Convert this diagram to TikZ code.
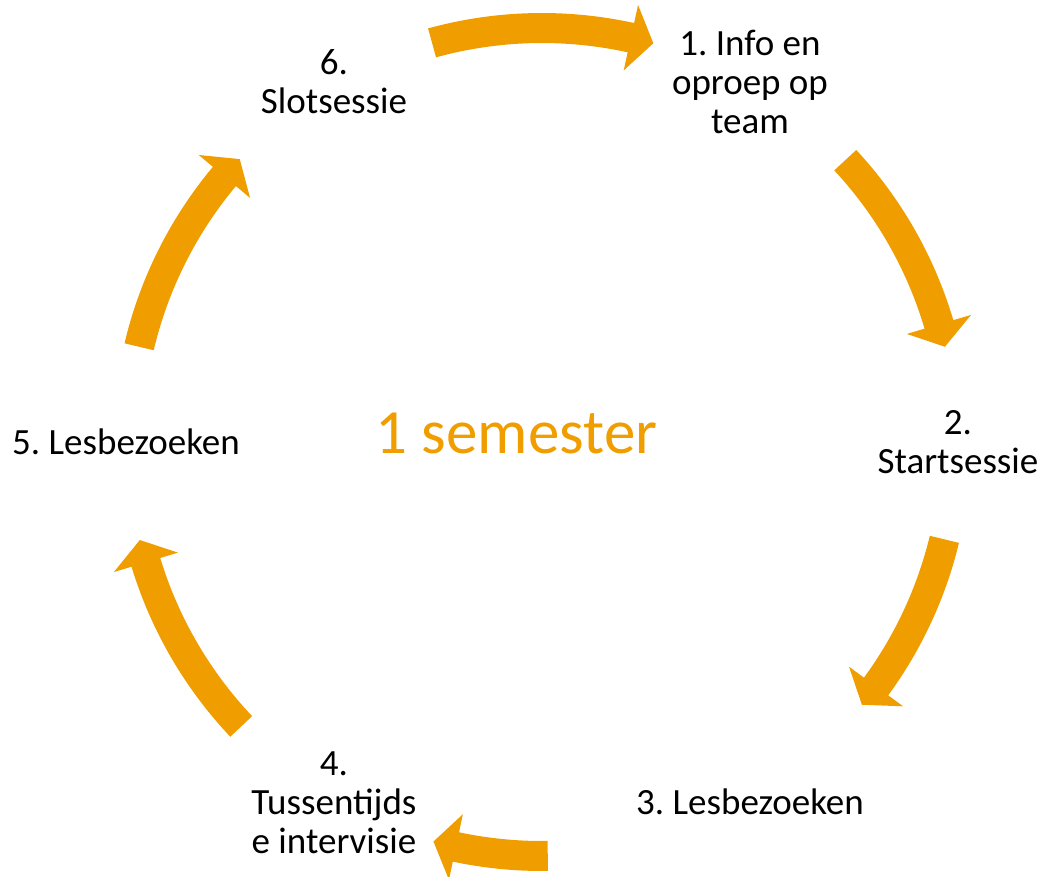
\documentclass[tikz,border=0pt]{standalone}
\usepackage{fontspec}
\setmainfont{Carlito}
\usepackage{tikz}
\usepackage{xcolor}
\definecolor{semorange}{RGB}{240,157,0}
\frenchspacing

\begin{document}
\begin{tikzpicture}[x=1pt,y=1pt]
	\useasboundingbox (-542,-434) rectangle (501,442);
	% curved block arrows, tail angle / tip angle
	\foreach \a/\b in {105.4/74.4, 42.9/13.3, -13.6/-39.4, -89.2/-105.2, 223.4/193.7, 166.7/136.9}
		\fill[semorange] (\a:399) -- (\a:429) arc[start angle=\a, end angle=\b+3.2, radius=429pt]
			-- ({\b+3.2}:447.5) -- (\b:414) -- ({\b+3.2}:380.5) -- ({\b+3.2}:399)
			arc[start angle=\b+3.2, end angle=\a, radius=399pt] -- cycle;
	\tikzstyle{every node}=[font=\fontsize{37}{39}\selectfont, align=center, inner sep=0pt]
	\node (info) at (60:416) {1. Info en\\oproep op\\team};
	\node (start) at (0:416) {2.\\Startsessie};
	\node (bezoek1) at (-60:416) {3. Lesbezoeken};
	\node (tussen) at (-120:416) {4.\\Tussentijds\\e intervisie};
	\node (bezoek2) at (180:416) {5. Lesbezoeken};
	\node (slot) at (120:416) {6.\\Slotsessie};
	\node[text=semorange, font=\fontsize{63}{70}\selectfont, anchor=base] (sem) at (-25.5,-11.3) {1 semester};
\end{tikzpicture}
\end{document}
